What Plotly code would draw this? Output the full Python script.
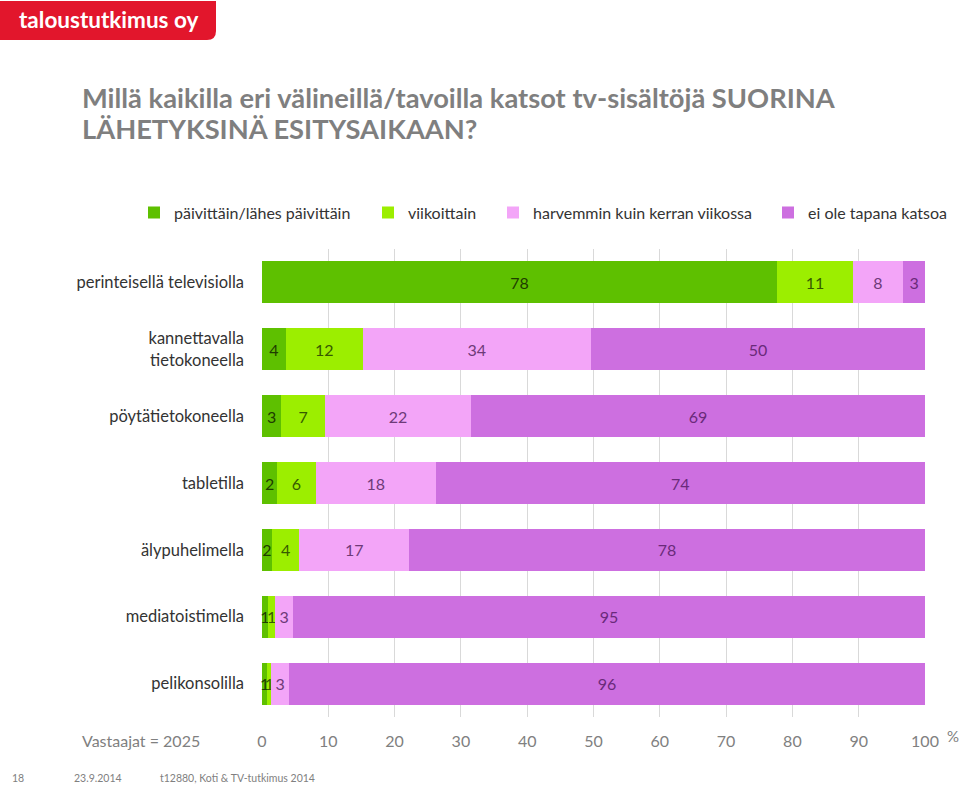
import plotly.graph_objects as go

categories = ["perinteisellä televisiolla", "kannettavalla<br>tietokoneella", "pöytätietokoneella",
              "tabletilla", "älypuhelimella", "mediatoistimella", "pelikonsolilla"]
series_names = ["päivittäin/lähes päivittäin", "viikoittain", "harvemmin kuin kerran viikossa", "ei ole tapana katsoa"]
# bar widths (percent)
daily = [77.7, 3.6, 2.9, 2.3, 1.5, 0.9, 0.8]
weekly = [11.4, 11.6, 6.6, 5.8, 4.1, 1.1, 0.6]
rarely = [7.6, 34.4, 22.0, 18.1, 16.6, 2.7, 2.7]
never = [3.3, 50.4, 68.5, 73.8, 77.8, 95.3, 95.9]
# printed labels
daily_lbl = [78, 4, 3, 2, 2, 1, 1]
weekly_lbl = [11, 12, 7, 6, 4, 1, 1]
rarely_lbl = [8, 34, 22, 18, 17, 3, 3]
never_lbl = [3, 50, 69, 74, 78, 95, 96]
tick_vals = [0, 10, 20, 30, 40, 50, 60, 70, 80, 90, 100]

colors = ["#5ec000", "#9cee00", "#f3a5f8", "#cd6fe0"]
text_colors = ["#1e3d00", "#365a00", "#6e3a78", "#6a2a7a"]
FONT = "Lato"

# pixel helpers (plot area: x 262..925, y 248.5..717.5)
def px(x):
    return (x - 262) / 663.0
def py(y):
    return (717.5 - y) / 469.0

legend_names = ["legend", "legend2", "legend3", "legend4"]
legend_x = [134, 368, 493, 768]

fig = go.Figure()
for i, (name, vals, lbls, col, tcol) in enumerate(zip(series_names, [daily, weekly, rarely, never],
                                 [daily_lbl, weekly_lbl, rarely_lbl, never_lbl], colors, text_colors)):
    fig.add_trace(go.Bar(
        y=categories, x=vals, name=name, orientation="h",
        marker=dict(color=col, line=dict(width=0)),
        text=[str(v) for v in lbls], textposition="inside", insidetextanchor="middle",
        textfont=dict(family=FONT, size=16, color=tcol),
        constraintext="none", cliponaxis=False,
        legend=legend_names[i],
    ))

legend_common = dict(orientation="h", yanchor="middle", xanchor="left",
                     font=dict(family=FONT, size=16, color="#333333"),
                     itemwidth=30, bgcolor="rgba(0,0,0,0)")
layout_legends = {}
for ln, lx in zip(legend_names, legend_x):
    layout_legends[ln] = dict(legend_common, x=px(lx), y=py(212))

fig.update_layout(
    width=960, height=788,
    barmode="stack", bargap=0.37,
    paper_bgcolor="white", plot_bgcolor="white",
    margin=dict(l=262, r=35, t=248.5, b=70.5, autoexpand=False),
    font=dict(family=FONT, color="#404040"),
    uniformtext=dict(minsize=16, mode="show"),
    showlegend=True,
    xaxis=dict(range=[0, 100], tickvals=tick_vals, showgrid=True, gridcolor="#d9d9d9",
               zeroline=False, showline=False, ticks="",
               tickfont=dict(family=FONT, size=16, color="#808080"), ticklabelstandoff=13),
    yaxis=dict(autorange="reversed", showgrid=False, zeroline=False, showline=False, ticks="",
               tickfont=dict(family=FONT, size=16.5, color="#333333"), ticklabelstandoff=17),
    **layout_legends,
)

# logo
fig.add_shape(type="path", xref="paper", yref="paper",
              path=f"M {px(0)} {py(0)} L {px(216)} {py(0)} L {px(216)} {py(30)} "
                   f"Q {px(216)} {py(39)} {px(207)} {py(39)} L {px(0)} {py(39)} Z",
              line=dict(width=0), fillcolor="#e2162c", layer="above")
fig.add_annotation(text="<b>taloustutkimus oy</b>", xref="paper", yref="paper",
                   x=px(108), y=py(19), xanchor="center", yanchor="middle", showarrow=False,
                   font=dict(family=FONT, size=22.5, color="white"))
fig.add_annotation(text="<b>Millä kaikilla eri välineillä/tavoilla katsot tv-sisältöjä SUORINA</b>",
                   xref="paper", yref="paper", x=px(80), y=py(97), xanchor="left", yanchor="middle",
                   align="left", showarrow=False,
                   font=dict(family=FONT, size=27.3, color="#7f7f7f"))
fig.add_annotation(text="<b>LÄHETYKSINÄ ESITYSAIKAAN?</b>",
                   xref="paper", yref="paper", x=px(80), y=py(128), xanchor="left", yanchor="middle",
                   align="left", showarrow=False,
                   font=dict(family=FONT, size=27.3, color="#7f7f7f"))
fig.add_annotation(text="Vastaajat = 2025", xref="paper", yref="paper", x=px(80), y=py(741),
                   xanchor="left", yanchor="middle", showarrow=False,
                   font=dict(family=FONT, size=16, color="#808080"))
fig.add_annotation(text="%", xref="paper", yref="paper", x=px(945), y=py(737),
                   xanchor="left", yanchor="middle", showarrow=False,
                   font=dict(family=FONT, size=15, color="#808080"))
for txt, xx in [("18", 10), ("23.9.2014", 72), ("t12880, Koti & TV-tutkimus 2014", 158)]:
    fig.add_annotation(text=txt, xref="paper", yref="paper", x=px(xx), y=py(779),
                       xanchor="left", yanchor="middle", showarrow=False,
                       font=dict(family=FONT, size=10.5, color="#808080"))

fig.write_html("out.html", config={"displayModeBar": False},
               post_script="document.body.style.margin='0';document.body.style.overflow='hidden';")
